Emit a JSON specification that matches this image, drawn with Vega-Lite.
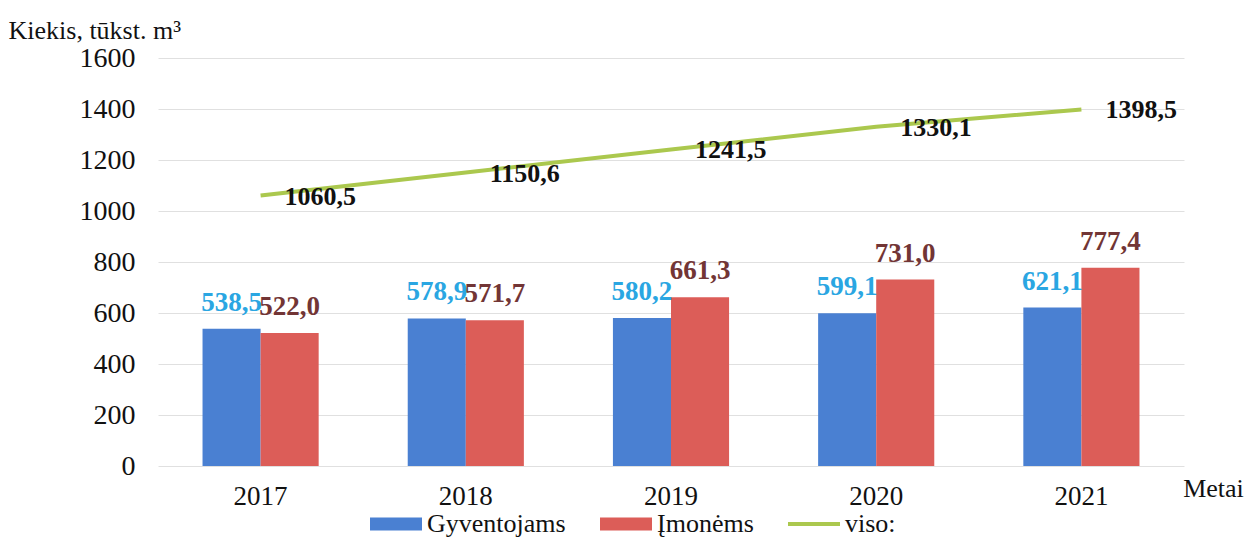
{
  "$schema": "https://vega.github.io/schema/vega-lite/v6.json",
  "width": 1026,
  "height": 408,
  "autosize": "none",
  "padding": {"left": 158, "top": 58, "right": 64, "bottom": 74},
  "background": "white",
  "config": {
    "view": {"stroke": null},
    "font": "Liberation Serif",
    "locale": {"number": {"decimal": ",", "thousands": " ", "grouping": [3], "currency": ["", " €"]}}
  },
  "data": {
    "values": [
      {"year": "2017", "series": "Gyventojams", "value": 538.5},
      {"year": "2017", "series": "Įmonėms", "value": 522.0},
      {"year": "2017", "series": "viso:", "value": 1060.5},
      {"year": "2018", "series": "Gyventojams", "value": 578.9},
      {"year": "2018", "series": "Įmonėms", "value": 571.7},
      {"year": "2018", "series": "viso:", "value": 1150.6},
      {"year": "2019", "series": "Gyventojams", "value": 580.2},
      {"year": "2019", "series": "Įmonėms", "value": 661.3},
      {"year": "2019", "series": "viso:", "value": 1241.5},
      {"year": "2020", "series": "Gyventojams", "value": 599.1},
      {"year": "2020", "series": "Įmonėms", "value": 731.0},
      {"year": "2020", "series": "viso:", "value": 1330.1},
      {"year": "2021", "series": "Gyventojams", "value": 621.1},
      {"year": "2021", "series": "Įmonėms", "value": 777.4},
      {"year": "2021", "series": "viso:", "value": 1398.5}
    ]
  },
  "encoding": {
    "x": {
      "field": "year",
      "type": "nominal",
      "scale": {"paddingInner": 0.434, "paddingOuter": 0.217},
      "axis": {
        "title": "Metai",
        "titleFont": "Liberation Serif",
        "titleFontSize": 26,
        "titleFontWeight": "normal",
        "titleColor": "#111",
        "titleAnchor": null,
        "titleAlign": "center",
        "titleBaseline": "middle",
        "titleX": 1055,
        "titleY": 22,
        "labelAngle": 0,
        "labelFont": "Liberation Serif",
        "labelFontSize": 27,
        "labelColor": "#111",
        "labelPadding": 17,
        "domain": false,
        "ticks": false,
        "grid": false
      }
    },
    "y": {
      "field": "value",
      "type": "quantitative",
      "scale": {"domain": [0, 1600], "nice": false},
      "axis": {
        "title": "Kiekis, tūkst. m³",
        "titleFont": "Liberation Serif",
        "titleFontSize": 26,
        "titleFontWeight": "normal",
        "titleColor": "#111",
        "titleAngle": 0,
        "titleAlign": "left",
        "titleBaseline": "alphabetic",
        "titleAnchor": null,
        "titleX": -150,
        "titleY": -20,
        "values": [0, 200, 400, 600, 800, 1000, 1200, 1400, 1600],
        "format": "d",
        "labelFont": "Liberation Serif",
        "labelFontSize": 28,
        "labelColor": "#111",
        "labelPadding": 23,
        "domain": false,
        "ticks": false,
        "gridColor": "#e0e0e0",
        "gridWidth": 1
      }
    },
    "color": {
      "field": "series",
      "type": "nominal",
      "scale": {
        "domain": ["Gyventojams", "Įmonėms", "viso:"],
        "range": ["#4a80d2", "#dc5d58", "#abc84e"]
      },
      "legend": {
        "title": null,
        "orient": "none",
        "direction": "horizontal",
        "legendX": 212,
        "legendY": 440,
        "labelFont": "Liberation Serif",
        "labelFontSize": 26,
        "labelColor": "#111",
        "labelOffset": 5,
        "columnPadding": 34,
        "symbolSize": 2704,
        "symbolStrokeWidth": 0,
        "encode": {
          "symbols": {
            "update": {
              "size": {"value": 2704},
              "strokeWidth": {"value": 0},
              "shape": {"signal": "datum.value === 'viso:' ? 'M-1,-0.08L1,-0.08L1,0.08L-1,0.08Z' : 'M-1,-0.25L1,-0.25L1,0.25L-1,0.25Z'"},
              "fill": {"signal": "scale('color', datum.value)"},
              "opacity": {"value": 1},
              "fillOpacity": {"value": 1}
            }
          }
        }
      }
    }
  },
  "layer": [
    {
      "transform": [{"filter": "datum.series !== 'viso:'"}],
      "mark": {"type": "bar", "opacity": 1},
      "encoding": {
        "xOffset": {"field": "series", "type": "nominal", "scale": {"paddingInner": 0, "paddingOuter": 0}}
      }
    },
    {
      "transform": [{"filter": "datum.series !== 'viso:'"}],
      "mark": {"type": "text", "font": "Liberation Serif", "fontSize": 27, "fontWeight": "bold", "baseline": "alphabetic", "dy": -18},
      "encoding": {
        "xOffset": {"field": "series", "type": "nominal", "scale": {"paddingInner": 0, "paddingOuter": 0}},
        "text": {"field": "value", "type": "quantitative", "format": ".1f"},
        "color": {
          "condition": {"test": "datum.series === 'Gyventojams'", "value": "#2aa6e2"},
          "value": "#723535"
        }
      }
    },
    {
      "transform": [{"filter": "datum.series === 'viso:'"}],
      "mark": {"type": "line", "strokeWidth": 4}
    },
    {
      "transform": [{"filter": "datum.series === 'viso:'"}],
      "mark": {"type": "text", "font": "Liberation Serif", "fontSize": 26, "fontWeight": "bold", "align": "left", "baseline": "middle", "dx": 24, "dy": 1},
      "encoding": {
        "text": {"field": "value", "type": "quantitative", "format": ".1f"},
        "color": {"value": "#111"}
      }
    }
  ]
}
